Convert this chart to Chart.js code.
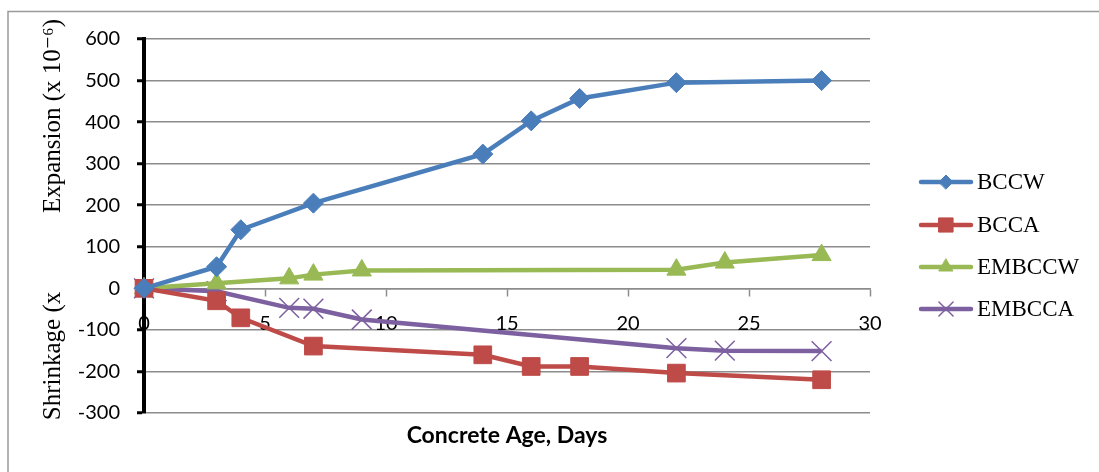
<!DOCTYPE html>
<html>
<head>
<meta charset="utf-8">
<script src="https://cdn.jsdelivr.net/npm/chart.js@4/dist/chart.umd.min.js"></script>
<style>
  html, body { margin: 0; padding: 0; background: #ffffff; }
  #wrap { position: relative; width: 1099px; height: 472px; overflow: hidden; }
  canvas { position: absolute; left: 0; top: 0; }
</style>
</head>
<body>
<div id="wrap"><canvas id="chart" width="1099" height="472"></canvas></div>
<script>
// Concrete age (days) and strain readings (x 10^-6) per mix
const bccwDays   = [0, 3, 4, 7, 14, 16, 18, 22, 28];
const bccwValues = [0, 52, 141, 205, 323, 403, 457, 495, 500];

const bccaDays   = [0, 3, 4, 7, 14, 16, 18, 22, 28];
const bccaValues = [0, -30, -71, -139, -160, -188, -188, -204, -220];

const embccwDays   = [0, 3, 6, 7, 9, 22, 24, 28];
const embccwValues = [0, 12, 24, 33, 43, 45, 62, 80];

const embccaDays   = [0, 3, 6, 7, 9, 22, 24, 28];
const embccaValues = [0, -7, -47, -49, -75, -144, -150, -151];

const seriesNames = ['BCCW', 'BCCA', 'EMBCCW', 'EMBCCA'];
const xTicks = [0, 5, 10, 15, 20, 25, 30];
const yTicks = [-300, -200, -100, 0, 100, 200, 300, 400, 500, 600];

const yTitleLower = 'Shrinkage (x';
const yTitleUpper = 'Expansion (x 10\u207B\u2076)';
const xTitle = 'Concrete Age, Days';

const toPoints = (days, vals) => days.map((d, i) => ({ x: d, y: vals[i] }));

const styles = [
  { color: '#4A7EBB', point: 'rectRot',  r: 10, lr: 7,  bw: 1 },
  { color: '#BE4B48', point: 'rect',     r: 12.5, lr: 10, bw: 1 },
  { color: '#98B954', point: 'triangle', r: 11, lr: 8,  bw: 1 },
  { color: '#7D60A0', point: 'crossRot', r: 14, lr: 10, bw: 1.5 }
];

const seriesData = [
  toPoints(bccwDays, bccwValues),
  toPoints(bccaDays, bccaValues),
  toPoints(embccwDays, embccwValues),
  toPoints(embccaDays, embccaValues)
];

const datasets = seriesNames.map((name, i) => ({
  label: name,
  data: seriesData[i],
  borderColor: styles[i].color,
  backgroundColor: styles[i].color,
  borderWidth: 4.5,
  tension: 0,
  pointStyle: styles[i].point,
  pointRadius: styles[i].r,
  pointHoverRadius: styles[i].r,
  pointBorderWidth: styles[i].bw,
  pointBackgroundColor: styles[i].color,
  pointBorderColor: styles[i].color,
  clip: false
}));

const AXIS_FONT = '"Lato", "Open Sans", sans-serif';
const SERIF = '"Liberation Serif", "DejaVu Serif", serif';

// Titles, outer frame and legend drawn on top of the chart
const decorations = {
  id: 'decorations',
  beforeDraw(chart) {
    const ctx = chart.ctx;
    ctx.save();
    ctx.strokeStyle = '#9a9a9a';
    ctx.lineWidth = 1.5;
    ctx.strokeRect(8, 11.5, 1200, 600);
    ctx.restore();
  },
  afterDraw(chart) {
    const ctx = chart.ctx;
    const area = chart.chartArea;
    ctx.save();
    // y-axis titles
    ctx.fillStyle = '#000';
    ctx.font = '25px ' + SERIF;
    ctx.textAlign = 'center';
    ctx.textBaseline = 'middle';
    ctx.save();
    ctx.translate(53, 356);
    ctx.rotate(-Math.PI / 2);
    ctx.fillText(yTitleLower, 0, 0);
    ctx.restore();
    ctx.save();
    ctx.translate(53, 116);
    ctx.rotate(-Math.PI / 2);
    ctx.fillText(yTitleUpper, 0, 0);
    ctx.restore();

    // x-axis title
    ctx.font = 'bold 23px ' + AXIS_FONT;
    ctx.fillText(xTitle, (area.left + area.right) / 2, 436);

    // legend
    const legendY = [182, 225, 267, 309];
    chart.data.datasets.forEach((ds, i) => {
      const y = legendY[i];
      ctx.strokeStyle = ds.borderColor;
      ctx.lineWidth = 4.5;
      ctx.lineCap = 'round';
      ctx.beginPath();
      ctx.moveTo(921, y);
      ctx.lineTo(971, y);
      ctx.stroke();
      ctx.fillStyle = ds.backgroundColor;
      ctx.strokeStyle = ds.borderColor;
      ctx.lineWidth = styles[i].bw;
      Chart.helpers.drawPoint(ctx, {
        pointStyle: ds.pointStyle,
        radius: styles[i].lr,
        rotation: 0,
        borderWidth: styles[i].bw
      }, 946, y);
      ctx.fillStyle = '#000';
      ctx.font = '23px ' + SERIF;
      ctx.textAlign = 'left';
      ctx.textBaseline = 'middle';
      ctx.fillText(ds.label, 977, y + 1);
    });
    ctx.restore();
  }
};

new Chart(document.getElementById('chart'), {
  type: 'line',
  data: { datasets },
  options: {
    responsive: false,
    animation: false,
    devicePixelRatio: 1,
    layout: { padding: { left: 0, right: 229, top: 39, bottom: 59 } },
    plugins: {
      legend: { display: false },
      tooltip: { enabled: false }
    },
    scales: {
      x: {
        type: 'linear',
        position: { y: 0 },
        min: 0,
        max: 30,
        afterBuildTicks(scale) { scale.ticks = xTicks.map(v => ({ value: v })); },
        ticks: {
          color: '#000',
          font: { family: AXIS_FONT, size: 20 },
          padding: 16,
          maxRotation: 0
        },
        grid: {
          drawOnChartArea: false,
          tickLength: 7,
          tickColor: '#8c8c8c',
          tickWidth: 1.5
        },
        border: { color: '#8c8c8c', width: 1.5 }
      },
      y: {
        type: 'linear',
        min: -300,
        max: 600,
        afterBuildTicks(scale) { scale.ticks = yTicks.map(v => ({ value: v })); },
        afterFit(scale) { scale.width = 144; },
        ticks: {
          color: '#000',
          font: { family: AXIS_FONT, size: 20 },
          padding: 17
        },
        grid: {
          color: '#8c8c8c',
          lineWidth: 1.5,
          tickLength: 7,
          tickColor: '#000',
          tickWidth: 3
        },
        border: { color: '#000', width: 4 }
      }
    }
  },
  plugins: [decorations]
});
</script>
</body>
</html>
